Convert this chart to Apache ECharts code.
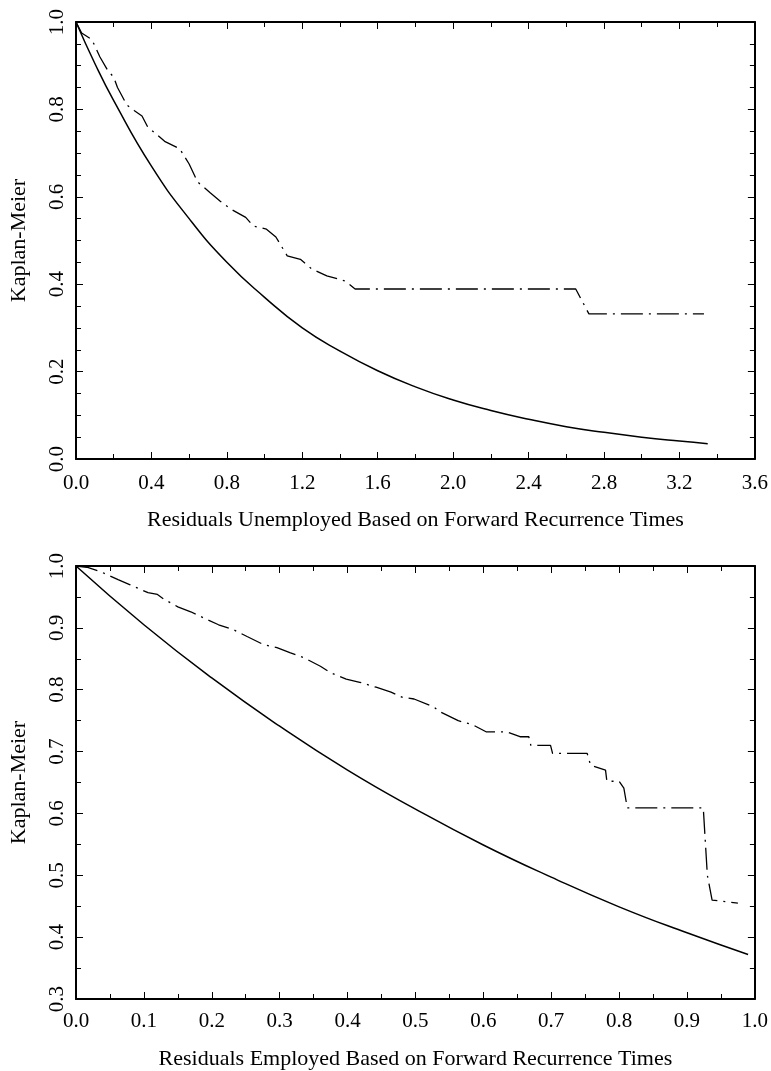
<!DOCTYPE html>
<html>
<head>
<meta charset="utf-8">
<title>Kaplan-Meier residuals</title>
<script src="https://cdn.jsdelivr.net/npm/echarts@6/dist/echarts.min.js"></script>
<style>
  html, body { margin: 0; padding: 0; background: #fff; }
  #chart { width: 771px; height: 1071px; }
</style>
</head>
<body>
<div id="chart"></div>
<script>
// top panel: unemployed
const unempFitX = [0, 0.1, 0.2, 0.4, 0.6, 0.8, 1.0, 1.2, 1.4, 1.6, 1.8, 2.0, 2.2, 2.4, 2.6, 2.8, 3.0, 3.2, 3.35];
const unempFitY = [1.0, 0.905, 0.82, 0.67, 0.55, 0.45, 0.37, 0.30, 0.247, 0.202, 0.165, 0.135, 0.111, 0.091, 0.074, 0.061, 0.050, 0.041, 0.035];
const unempKmX = [0, 0.03, 0.084, 0.127, 0.17, 0.2, 0.22, 0.27, 0.31, 0.35, 0.38, 0.47, 0.55, 0.6, 0.645, 0.71, 0.765, 0.82, 0.9, 0.94, 1.01, 1.06, 1.12, 1.19, 1.25, 1.33, 1.43, 1.48, 2.65, 2.72, 3.33];
const unempKmY = [1.0, 0.975, 0.96, 0.92, 0.888, 0.874, 0.85, 0.81, 0.797, 0.785, 0.76, 0.727, 0.71, 0.675, 0.634, 0.61, 0.59, 0.572, 0.553, 0.533, 0.526, 0.508, 0.465, 0.457, 0.435, 0.419, 0.407, 0.389, 0.389, 0.332, 0.332];

// bottom panel: employed
const empFitX = [0, 0.1, 0.2, 0.3, 0.4, 0.5, 0.6, 0.7, 0.8, 0.9, 0.99];
const empFitY = [1.0, 0.905, 0.819, 0.741, 0.670, 0.607, 0.549, 0.497, 0.449, 0.407, 0.372];
const empKmX = [0, 0.016, 0.038, 0.062, 0.079, 0.106, 0.12, 0.13, 0.15, 0.169, 0.194, 0.21, 0.232, 0.252, 0.276, 0.296, 0.315, 0.335, 0.36, 0.374, 0.398, 0.418, 0.442, 0.464, 0.48, 0.498, 0.527, 0.537, 0.563, 0.585, 0.604, 0.634, 0.654, 0.667, 0.67, 0.699, 0.702, 0.753, 0.758, 0.78, 0.782, 0.8, 0.807, 0.812, 0.924, 0.93, 0.937, 0.975];
const empKmY = [1.0, 0.998, 0.99, 0.978, 0.97, 0.957, 0.954, 0.946, 0.934, 0.926, 0.913, 0.905, 0.897, 0.886, 0.873, 0.868, 0.86, 0.852, 0.838, 0.828, 0.817, 0.812, 0.804, 0.796, 0.788, 0.785, 0.772, 0.764, 0.75, 0.743, 0.732, 0.732, 0.724, 0.724, 0.71, 0.71, 0.697, 0.697, 0.678, 0.67, 0.652, 0.652, 0.641, 0.609, 0.609, 0.50, 0.46, 0.455];

// axis ticks
const unempXTicks = { min: 0, max: 3.6, interval: 0.4 };
const unempYTicks = { min: 0, max: 1.0, interval: 0.2 };
const empXTicks = { min: 0, max: 1.0, interval: 0.1 };
const empYTicks = { min: 0.3, max: 1.0, interval: 0.1 };

const FONT = 'Liberation Serif';
const zip = (xs, ys) => xs.map((x, i) => [x, ys[i]]);

function makeAxis(gridIndex, ticks, minorSplit, opts) {
  return Object.assign({
    type: 'value',
    gridIndex: gridIndex,
    min: ticks.min,
    max: ticks.max,
    interval: ticks.interval,
    axisLine: { show: true, onZero: false, lineStyle: { color: '#000', width: 2 } },
    axisTick: { show: true, inside: true, length: 7, lineStyle: { color: '#000', width: 1 } },
    minorTick: { show: true, splitNumber: minorSplit, length: 5, lineStyle: { color: '#000', width: 1 } },
    splitLine: { show: false },
    axisLabel: { show: false }
  }, opts);
}

const tickLabel = (rotate, margin) => ({
  show: true,
  rotate: rotate,
  margin: margin,
  color: '#000',
  fontFamily: FONT,
  fontSize: 21,
  formatter: v => v.toFixed(1)
});

const nameStyle = { color: '#000', fontFamily: FONT, fontSize: 22 };

const chart = echarts.init(document.getElementById('chart'), null, { renderer: 'canvas' });

const option = {
  animation: false,
  backgroundColor: '#fff',
  grid: [
    { left: 74, top: 22, width: 686, height: 437 },
    { left: 74, top: 566, width: 685, height: 436 }
  ],
  xAxis: [
    makeAxis(0, unempXTicks, 2, {
      position: 'bottom',
      axisLabel: tickLabel(0, 14),
      name: 'Residuals Unemployed Based on Forward Recurrence Times',
      nameLocation: 'middle',
      nameGap: 50,
      nameTextStyle: nameStyle
    }),
    makeAxis(0, unempXTicks, 2, { position: 'top' }),
    makeAxis(1, empXTicks, 2, {
      position: 'bottom',
      axisLabel: tickLabel(0, 12),
      name: 'Residuals Employed Based on Forward Recurrence Times',
      nameLocation: 'middle',
      nameGap: 49,
      nameTextStyle: nameStyle
    }),
    makeAxis(1, empXTicks, 2, { position: 'top' })
  ],
  yAxis: [
    makeAxis(0, unempYTicks, 4, {
      position: 'left',
      axisLabel: tickLabel(90, 8),
      name: 'Kaplan-Meier',
      nameLocation: 'middle',
      nameGap: 46,
      nameTextStyle: nameStyle
    }),
    makeAxis(0, unempYTicks, 4, { position: 'right' }),
    makeAxis(1, empYTicks, 2, {
      position: 'left',
      axisLabel: tickLabel(90, 8),
      name: 'Kaplan-Meier',
      nameLocation: 'middle',
      nameGap: 46,
      nameTextStyle: nameStyle
    }),
    makeAxis(1, empYTicks, 2, { position: 'right' })
  ],
  series: [
    {
      type: 'line', xAxisIndex: 0, yAxisIndex: 0,
      data: zip(unempFitX, unempFitY),
      smooth: true, showSymbol: false,
      lineStyle: { color: '#000', width: 1.5 }
    },
    {
      type: 'line', xAxisIndex: 0, yAxisIndex: 0,
      data: zip(unempKmX, unempKmY),
      showSymbol: false,
      lineStyle: { color: '#000', width: 1.3, type: [22, 6, 2, 6] }
    },
    {
      type: 'line', xAxisIndex: 2, yAxisIndex: 2,
      data: zip(empFitX, empFitY),
      smooth: true, showSymbol: false,
      lineStyle: { color: '#000', width: 1.5 }
    },
    {
      type: 'line', xAxisIndex: 2, yAxisIndex: 2,
      data: zip(empKmX, empKmY),
      showSymbol: false,
      lineStyle: { color: '#000', width: 1.3, type: [22, 6, 2, 6] }
    }
  ]
};

chart.setOption(option);
</script>
</body>
</html>
